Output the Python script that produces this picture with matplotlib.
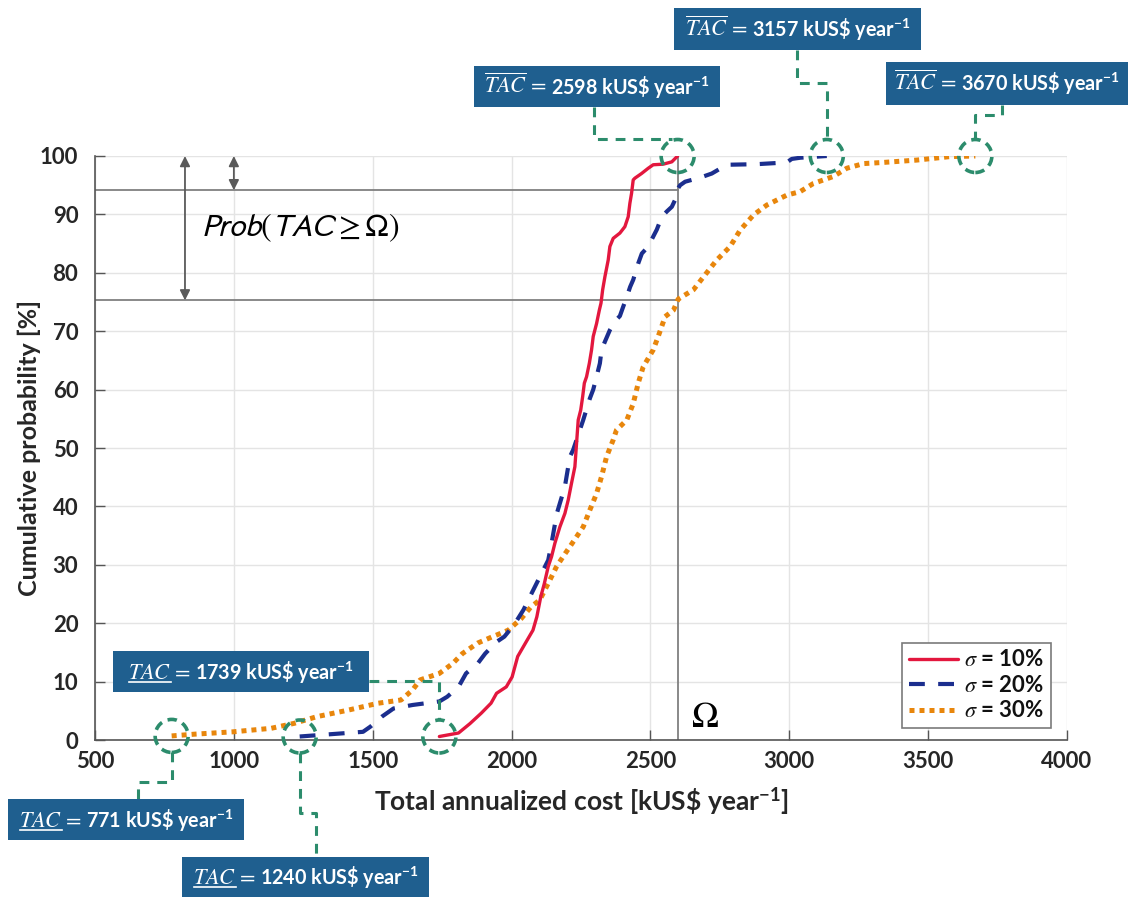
import numpy as np
import matplotlib
matplotlib.use('Agg')
import matplotlib.pyplot as plt
from matplotlib.patches import Rectangle, Circle
from matplotlib.lines import Line2D
import matplotlib.transforms as mtransforms

plt.rcParams['font.family'] = ['Lato', 'DejaVu Sans']
plt.rcParams['mathtext.fontset'] = 'custom'
plt.rcParams['mathtext.rm'] = 'Lato'
plt.rcParams['mathtext.it'] = 'Lato:italic'
plt.rcParams['mathtext.bf'] = 'Lato:bold'

# ---------------- data ----------------
tac_10 = [1740, 1809, 1850, 1891, 1926, 1946, 1981, 2002, 2022, 2050, 2077, 2091, 2105, 2118,
          2132, 2144, 2156, 2174, 2192, 2204, 2216, 2228, 2234, 2240, 2249, 2256, 2262, 2270,
          2280, 2288, 2294, 2306, 2316, 2322, 2328, 2336, 2348, 2354, 2366, 2390, 2408, 2420,
          2426, 2432, 2438, 2444, 2468, 2492, 2510, 2546, 2577, 2598]
cdf_10 = [0.6, 1.2, 2.8, 4.6, 6.3, 8.0, 9.1, 10.8, 14.3, 16.6, 18.8, 21.1, 24.5, 26.8,
          29.7, 31.4, 33.7, 36.5, 38.8, 41.1, 44.0, 46.8, 50.8, 54.8, 56.5, 58.8, 61.1, 62.2,
          64.5, 66.8, 69.1, 71.3, 73.6, 74.8, 77.1, 79.3, 82.2, 84.5, 85.9, 86.8, 87.9, 89.6,
          91.9, 93.6, 95.9, 96.2, 97.0, 97.9, 98.5, 98.6, 99.0, 100.0]

tac_20 = [1237, 1465, 1492, 1533, 1575, 1644, 1740, 1768, 1809, 1836, 1878, 1905, 1946, 1974,
          2010, 2043, 2072, 2114, 2132, 2144, 2163, 2192, 2210, 2222, 2246, 2258, 2282, 2294,
          2306, 2318, 2324, 2336, 2354, 2372, 2390, 2402, 2415, 2427, 2438, 2456, 2469, 2492,
          2510, 2523, 2541, 2559, 2577, 2589, 2600, 2607, 2625, 2679, 2721, 2775, 2883, 2991,
          3009, 3039, 3135]
cdf_20 = [0.6, 1.4, 2.3, 4.0, 5.4, 6.0, 6.6, 7.4, 9.1, 11.4, 13.1, 14.8, 16.8, 17.7,
          19.8, 22.3, 25.1, 29.1, 30.8, 33.7, 38.8, 43.4, 48.5, 49.7, 53.1, 54.8, 58.5, 60.0,
          62.2, 64.5, 66.8, 68.2, 70.2, 71.7, 72.6, 74.2, 75.9, 77.6, 78.8, 81.6, 83.3, 84.5,
          86.2, 87.4, 89.6, 90.5, 91.3, 92.5, 94.5, 95.0, 95.6, 96.3, 97.0, 98.5, 98.6, 98.9,
          99.5, 99.7, 100.0]

tac_30 = [776, 859, 997, 1134, 1217, 1299, 1410, 1520, 1602, 1644, 1671, 1740, 1788, 1823,
          1878, 1932, 1988, 2035, 2070, 2102, 2138, 2162, 2194, 2210, 2258, 2282, 2306, 2324,
          2342, 2366, 2378, 2415, 2438, 2456, 2474, 2510, 2528, 2553, 2583, 2600, 2655, 2691,
          2739, 2787, 2823, 2871, 2919, 2991, 3039, 3087, 3159, 3207, 3267, 3339, 3459, 3579,
          3670]
cdf_30 = [0.7, 1.0, 1.4, 2.0, 2.85, 4.0, 5.1, 6.3, 6.85, 8.6, 10.3, 11.4, 13.1, 14.8,
          16.6, 17.7, 18.8, 20.8, 22.8, 24.0, 27.4, 29.7, 32.0, 33.1, 36.5, 39.4, 42.2, 45.1,
          48.5, 51.4, 53.1, 54.8, 57.6, 61.1, 63.9, 66.8, 69.1, 72.5, 73.6, 75.5, 77.1, 79.3,
          82.2, 84.5, 87.3, 89.9, 91.6, 93.3, 93.9, 95.3, 96.5, 97.9, 98.7, 98.9, 99.3, 99.9,
          100.0]

series_labels = [r'$\sigma$ = 10%', r'$\sigma$ = 20%', r'$\sigma$ = 30%']
x_ticks = [500, 1000, 1500, 2000, 2500, 3000, 3500, 4000]
y_ticks = [0, 10, 20, 30, 40, 50, 60, 70, 80, 90, 100]
omega = 2598
max_tac = [2598, 3157, 3670]   # sigma 10, 20, 30 %
min_tac = [1739, 1240, 771]    # sigma 10, 20, 30 %

# ---------------- style ----------------
RED = '#E3173E'
BLUE = '#1B2E8E'
ORANGE = '#E8860C'
GREEN = '#2C8C6C'
BOX = '#1F5F8F'
GRAY = '#808080'

W, H = 1131, 897
fig = plt.figure(figsize=(W / 100, H / 100), dpi=100)
ax = fig.add_axes([95 / W, 1 - 740 / H, 972 / W, 584 / H])

l30, = ax.plot(tac_30, cdf_30, color=ORANGE, lw=3.6, dashes=(1, 1), dash_capstyle='butt', zorder=3)
l20, = ax.plot(tac_20, cdf_20, color=BLUE, lw=3.0, dashes=(3.8, 3.2), dash_capstyle='butt', zorder=4)
l10, = ax.plot(tac_10, cdf_10, color=RED, lw=2.4, solid_capstyle='round', zorder=5)

ax.set_xlim(500, 4000)
ax.set_ylim(0, 100)
ax.set_xticks(x_ticks)
ax.set_yticks(y_ticks)
ax.grid(True, color='#E4E4E4', lw=1)
ax.set_axisbelow(True)
for s in ['top', 'right']:
    ax.spines[s].set_visible(False)
for s in ['left', 'bottom']:
    ax.spines[s].set_color('#555555')
    ax.spines[s].set_linewidth(1.2)
ax.tick_params(direction='in', length=7, width=1, colors='#555555', labelcolor='#262626',
               labelsize=16)
ax.tick_params(axis='x', pad=8)
ax.tick_params(axis='y', pad=12)
for lab in ax.get_xticklabels() + ax.get_yticklabels():
    lab.set_fontweight('bold')

ax.set_xlabel(r'Total annualized cost [kUS\$ year$^{\mathdefault{-1}}$]', fontsize=19,
              fontweight='bold', color='#262626')
ax.xaxis.set_label_coords(0.5, -0.078)
ax.set_ylabel('Cumulative probability [%]', fontsize=18, fontweight='bold', color='#262626')
ax.yaxis.set_label_coords(-0.0556, 0.5)

# Omega reference lines
lvl20 = float(np.interp(omega, tac_20, cdf_20))
lvl30 = float(np.interp(omega, tac_30, cdf_30))
ax.plot([omega, omega], [0, 100], color=GRAY, lw=1.3, zorder=2)
ax.plot([500, omega], [lvl20, lvl20], color=GRAY, lw=1.3, zorder=2)
ax.plot([500, omega], [lvl30, lvl30], color=GRAY, lw=1.3, zorder=2)
ax.text(2697, 4.0, r'$\Omega$', fontsize=26, math_fontfamily='stix', color='black',
        ha='center', va='center')
ax.text(1238, 87.8, r'$Prob\left(TAC\geq\Omega\right)$', fontsize=23, ha='center', va='center',
        color='black', math_fontfamily='stixsans')
arrow_kw = dict(arrowstyle='<|-|>', color='#5a5a5a', lw=1.3, mutation_scale=15, shrinkA=0, shrinkB=0)
ax.annotate('', xy=(824, lvl30), xytext=(824, 100), arrowprops=arrow_kw)
ax.annotate('', xy=(1000, lvl20), xytext=(1000, 100), arrowprops=arrow_kw)

leg = ax.legend([l10, l20, l30], series_labels, loc='lower right',
                bbox_to_anchor=(1 - 16 / 972, 12 / 584), borderaxespad=0,
                prop=dict(weight='bold', size=16), fancybox=False, framealpha=1,
                edgecolor='#7a7a7a', handlelength=2.2, labelspacing=0.2,
                borderpad=0.3, handletextpad=0.3)
leg.get_frame().set_linewidth(1.2)
for t in leg.get_texts():
    t.set_math_fontfamily('stix')
    t.set_color('#111111')

# ---------------- annotations ----------------
R = 16.5  # circle radius in px


def dpx(x, y):
    d = ax.transData.transform((x, y))
    return d[0], H - d[1]


def fline(pts):
    fig.add_artist(Line2D([p[0] / W for p in pts], [1 - p[1] / H for p in pts],
                          transform=fig.transFigure, color=GREEN, lw=2.2,
                          dashes=(3.2, 2.6), zorder=4))


def circle(x, y):
    tr = fig.dpi_scale_trans + mtransforms.ScaledTranslation(x, y, ax.transData)
    c = Circle((0, 0), R / 100, transform=tr, fill=False, ec=GREEN, lw=2.6,
               linestyle=(0, (2.6, 1.7)), clip_on=False, zorder=6)
    fig.add_artist(c)


ends = [(tac_10[-1], cdf_10[-1]), (tac_20[-1], cdf_20[-1]), (tac_30[-1], cdf_30[-1])]
starts = [(tac_10[0], cdf_10[0]), (tac_20[0], cdf_20[0]), (tac_30[0], cdf_30[0])]
for p in ends + starts:
    circle(*p)

c10t = dpx(*ends[0]); c20t = dpx(*ends[1]); c30t = dpx(*ends[2])
c10b = dpx(*starts[0]); c20b = dpx(*starts[1]); c30b = dpx(*starts[2])

fline([(594, 107), (594, c10t[1] - R), (c10t[0] - 6, c10t[1] - R)])
fline([(797, 50), (797, 83), (c20t[0], 83), (c20t[0], c20t[1] - R)])
fline([(1002, 105), (1002, 115), (c30t[0], 115), (c30t[0], c30t[1] - R)])
fline([(369, 681), (c10b[0], 681), (c10b[0], c10b[1] - R)])
fline([(c30b[0], c30b[1] + R), (c30b[0], 782), (138, 782), (138, 799)])
fline([(c20b[0], c20b[1] + R), (c20b[0], 813), (316, 813), (316, 857)])

boxes_top = [(474, 66, 720, 107), (674, 8, 921, 50), (886, 62, 1128, 105)]
boxes_bot = [(113, 651, 369, 692), (182, 857, 429, 897), (8, 799, 244, 840)]

FS_MATH = 16
FS_TXT = 14.2
items = []
for rect, v in zip(boxes_top, max_tac):
    items.append((rect, r'$\overline{TAC}\,=$', r'%d kUS\$ year$^{\mathdefault{-1}}$' % v, False))
for rect, v in zip(boxes_bot, min_tac):
    items.append((rect, r'$TAC\,=$', r'%d kUS\$ year$^{\mathdefault{-1}}$' % v, True))

placed = []
for rect, ms, ts, under in items:
    x0, y0, x1, y1 = rect
    fig.add_artist(Rectangle((x0 / W, 1 - y1 / H), (x1 - x0) / W, (y1 - y0) / H,
                             transform=fig.transFigure, fc=BOX, ec='none', zorder=7))
    t1 = fig.text(0, 0, ms, fontsize=FS_MATH, math_fontfamily='stix', color='white',
                  ha='left', va='baseline', zorder=8)
    t2 = fig.text(0, 0, ts, fontsize=FS_TXT, fontweight='bold', math_fontfamily='stix',
                  color='white', ha='left', va='baseline', zorder=8)
    placed.append((rect, t1, t2, under))

fig.canvas.draw()
renderer = fig.canvas.get_renderer()
tmp = fig.text(0, 0, r'$TAC$', fontsize=FS_MATH, math_fontfamily='stix')
wtac = tmp.get_window_extent(renderer).width
tmp.remove()
GAP = 4
for rect, t1, t2, under in placed:
    x0, y0, x1, y1 = rect
    w1 = t1.get_window_extent(renderer).width
    w2 = t2.get_window_extent(renderer).width
    total = w1 + GAP + w2
    xs = (x0 + x1) / 2 - total / 2
    base = H - (y0 + y1) / 2 - 7   # baseline in display px (bottom origin)
    t1.set_position((xs / W, base / H))
    t2.set_position(((xs + w1 + GAP) / W, base / H))
    if under:
        uy = base - 3
        fig.add_artist(Line2D([(xs + 1) / W, (xs + wtac) / W], [uy / H, uy / H],
                              transform=fig.transFigure, color='white', lw=1.2, zorder=9))

fig.savefig('out.png', dpi=100)
